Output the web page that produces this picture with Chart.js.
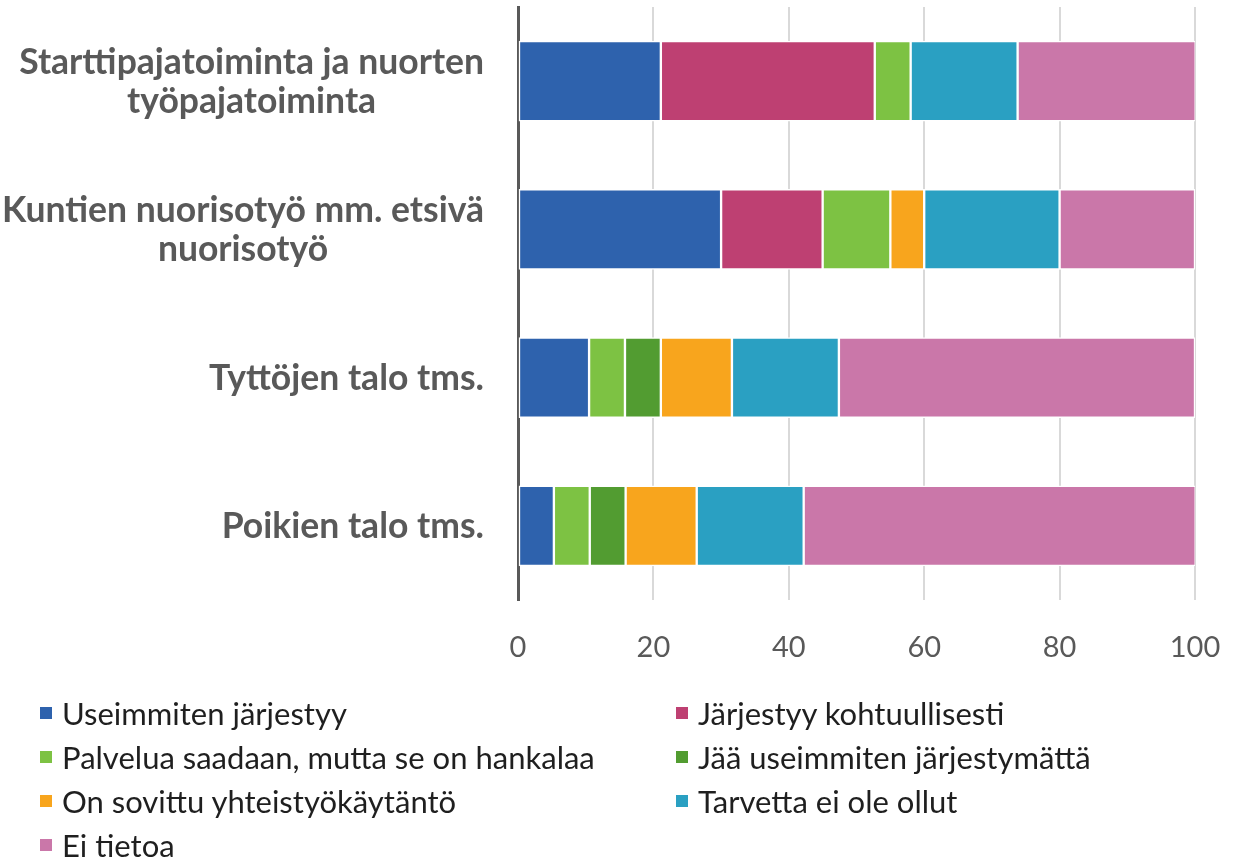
<!DOCTYPE html>
<html><head><meta charset="utf-8">
<script src="https://cdn.jsdelivr.net/npm/chart.js@4/dist/chart.umd.min.js"></script>
<style>
html,body{margin:0;padding:0;background:#fff;}
#wrap{position:relative;width:1237px;height:862px;overflow:hidden;}
#c{position:absolute;left:0;top:0;}
#legend{position:absolute;left:40px;top:691px;display:grid;grid-template-columns:636px 560px;font-family:Lato,sans-serif;color:#1f1f1f;}
.item{display:flex;align-items:center;height:44px;white-space:nowrap;}
.box{width:12px;height:12px;margin-right:10px;flex:none;}
</style></head><body>
<div id="wrap"><canvas id="c" width="1237" height="862"></canvas><div id="legend"></div></div>
<script>
const categories = [
  ["Starttipajatoiminta ja nuorten", "työpajatoiminta"],
  ["Kuntien nuorisotyö mm. etsivä", "nuorisotyö"],
  "Tyttöjen talo tms.",
  "Poikien talo tms."
];
const seriesNames = [
  "Useimmiten järjestyy",
  "Järjestyy kohtuullisesti",
  "Palvelua saadaan, mutta se on hankalaa",
  "Jää useimmiten järjestymättä",
  "On sovittu yhteistyökäytäntö",
  "Tarvetta ei ole ollut",
  "Ei tietoa"
];
const seriesColors = ["#2E62AD", "#BE4072", "#7DC243", "#529C31", "#F8A51D", "#2AA0C2", "#CA77A9"];
const useimmitenJarjestyy = [21.1, 30.0, 10.5, 5.3];
const jarjestyyKohtuullisesti = [31.6, 15.0, 0, 0];
const palveluaHankalaa = [5.3, 10.0, 5.3, 5.3];
const jaaJarjestymatta = [0, 0, 5.3, 5.3];
const sovittuKaytanto = [0, 5.0, 10.5, 10.5];
const tarvettaEiOllut = [15.8, 20.0, 15.8, 15.8];
const eiTietoa = [26.3, 20.0, 52.6, 57.9];
const xTickValues = [0, 20, 40, 60, 80, 100];

const seriesValues = [useimmitenJarjestyy, jarjestyyKohtuullisesti, palveluaHankalaa, jaaJarjestymatta, sovittuKaytanto, tarvettaEiOllut, eiTietoa];

function fitFont(text, weight, family, target) {
  const cv = document.createElement('canvas').getContext('2d');
  cv.font = weight + ' 100px ' + family;
  return 100 * target / cv.measureText(text).width;
}
const yFont = fitFont("Starttipajatoiminta ja nuorten", "bold", "Lato", 465);
const legFont = fitFont("Palvelua saadaan, mutta se on hankalaa", "normal", "Lato", 533);

const AXIS_LEFT = 518, PLOT_BOTTOM = 600, H = 862;

const yLabelPlugin = {
  id: 'yLabels',
  afterDraw(chart) {
    const ys = chart.scales.y, ctx = chart.ctx;
    ctx.save();
    ctx.font = 'bold ' + yFont.toFixed(2) + 'px Lato';
    ctx.fillStyle = '#595959';
    ctx.textBaseline = 'middle';
    ctx.textAlign = 'center';
    const right = chart.chartArea.left - 34;
    chart.data.labels.forEach((lab, i) => {
      const lines = Array.isArray(lab) ? lab : [lab];
      const w = Math.max(...lines.map(l => ctx.measureText(l).width));
      const cy = ys.getPixelForTick(i);
      lines.forEach((l, j) => {
        ctx.fillText(l, right - w / 2, cy + (j - (lines.length - 1) / 2) * 39 + 1);
      });
    });
    ctx.restore();
  }
};

const chart = new Chart(document.getElementById('c'), {
  type: 'bar',
  data: {
    labels: categories,
    datasets: seriesNames.map((n, k) => ({
      label: n,
      data: seriesValues[k],
      backgroundColor: seriesColors[k],
      borderColor: '#ffffff',
      borderWidth: 1.5,
      borderSkipped: false,
      barThickness: 80
    }))
  },
  options: {
    indexAxis: 'y',
    responsive: false,
    animation: false,
    layout: { padding: { top: 7, right: 42, left: 0, bottom: 0 } },
    plugins: { legend: { display: false }, tooltip: { enabled: false } },
    scales: {
      x: {
        stacked: true, min: 0, max: 100,
        afterBuildTicks(s) { s.ticks = xTickValues.map(v => ({ value: v })); },
        afterFit(s) { s.height = H - PLOT_BOTTOM; s.paddingRight = 0; s.paddingLeft = 0; },
        grid: { color: '#d9d9d9', lineWidth: 2, drawTicks: false },
        border: { display: false },
        ticks: { padding: 30, color: '#595959', font: { family: 'Lato', size: 29 } }
      },
      y: {
        stacked: true,
        afterFit(s) { s.width = AXIS_LEFT; s.paddingTop = 0; s.paddingBottom = 0; },
        grid: { color: 'rgba(0,0,0,0)', drawTicks: false },
        border: { display: true, color: '#595959', width: 3 },
        ticks: { display: false }
      }
    }
  },
  plugins: [yLabelPlugin]
});

const leg = document.getElementById('legend');
leg.style.fontSize = legFont.toFixed(2) + 'px';
chart.data.datasets.forEach(ds => {
  const it = document.createElement('div'); it.className = 'item';
  const b = document.createElement('span'); b.className = 'box'; b.style.background = ds.backgroundColor;
  const t = document.createElement('span'); t.textContent = ds.label;
  it.appendChild(b); it.appendChild(t); leg.appendChild(it);
});
</script>
</body></html>
